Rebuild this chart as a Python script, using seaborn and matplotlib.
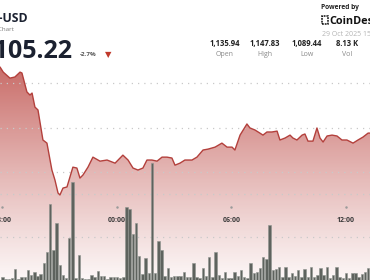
import numpy as np
import pandas as pd
import matplotlib
matplotlib.use("Agg")
import matplotlib.pyplot as plt
import matplotlib.transforms as mtransforms
from matplotlib.patches import Rectangle
import seaborn as sns

# ---------------- data (hours relative to 29 Oct 00:00) ----------------
price_hours = [-6.13, -5.96, -5.61, -5.35, -5.08, -4.98, -4.72, -4.56, -4.45, -4.30,
               -4.14, -3.88, -3.67, -3.41, -3.25, -3.09, -2.99, -2.83, -2.62, -2.31,
               -2.10, -1.94, -1.78, -1.52, -1.26, -0.89, -0.52, -0.10, 0.31, 0.58,
               0.84, 1.10, 1.36, 1.57, 1.83, 2.10, 2.36, 2.62, 2.88, 3.04,
               3.30, 3.56, 3.93, 4.19, 4.51, 4.77, 5.14, 5.50, 5.77, 6.03,
               6.18, 6.45, 6.81, 6.97, 7.23, 7.49, 7.65, 7.86, 8.12, 8.39,
               8.54, 8.81, 9.07, 9.22, 9.43, 9.70, 9.85, 10.01, 10.27, 10.48,
               10.64, 10.80, 11.01, 11.27, 11.53, 11.79, 12.05, 12.37, 12.63, 12.89,
               13.16, 13.26]
price_values = [1147.2, 1144.9, 1142.2, 1142.7, 1144.9, 1144.5, 1136.0, 1134.6, 1135.5, 1129.2,
                1127.9, 1114.4, 1113.0, 1100.9, 1096.4, 1090.6, 1089.7, 1092.8, 1093.3, 1102.2,
                1101.8, 1097.3, 1098.7, 1102.2, 1106.7, 1104.9, 1105.4, 1104.0, 1107.6, 1105.4,
                1101.8, 1100.9, 1101.8, 1105.4, 1105.4, 1104.9, 1106.7, 1106.7, 1106.3, 1103.1,
                1104.0, 1105.4, 1105.4, 1106.7, 1109.9, 1110.3, 1111.2, 1113.0, 1111.2, 1111.2,
                1109.9, 1116.6, 1121.6, 1119.8, 1118.9, 1117.5, 1116.6, 1118.0, 1118.0, 1118.4,
                1114.4, 1115.3, 1116.6, 1115.3, 1114.4, 1116.6, 1117.1, 1113.9, 1113.9, 1119.8,
                1115.3, 1113.5, 1116.2, 1116.6, 1116.2, 1114.4, 1114.4, 1113.0, 1114.4, 1115.7,
                1117.5, 1117.5]

volume_start_hour = -6.0          # 28 Oct 18:00
volume_step_minutes = 10
volume_values = [7, 2, 2, 5, 26, 2, 7, 7, 23, 12,
                 19, 9, 14, 40, 65, 177, 70, 133, 35, 12,
                 5, 98, 228, 5, 58, 5, 2, 2, 12, 7,
                 21, 9, 9, 2, 7, 7, 7, 5, 7, 170,
                 165, 107, 133, 56, 14, 51, 16, 272, 16, 91,
                 70, 9, 28, 7, 9, 9, 9, 19, 7, 7,
                 40, 7, 5, 28, 9, 53, 7, 65, 12, 5,
                 19, 5, 5, 19, 9, 23, 7, 5, 40, 16,
                 19, 28, 53, 49, 128, 23, 26, 30, 7, 30,
                 7, 16, 9, 23, 7, 26, 7, 30, 7, 12,
                 28, 12, 30, 5, 12, 30, 7, 5, 16, 5,
                 16, 16, 7, 14, 19, 28]
volume_hours = volume_start_hour + np.arange(len(volume_values)) * volume_step_minutes / 60.0

tick_hours = [-6, 0, 6, 12]
tick_labels = ["18:00", "00:00", "06:00", "12:00"]

stat_values = ["1,135.94", "1,147.83", "1,089.44", "8.13 K"]
stat_names = ["Open", "High", "Low", "Vol"]

# ---------------- styling ----------------
sns.set_theme(style="white")
plt.rcParams["font.family"] = ["Open Sans", "DejaVu Sans"]

W, H = 370, 280
fig = plt.figure(figsize=(W / 100, H / 100), dpi=100)
fig.patch.set_facecolor("white")

xlim = (-6.13, 13.26)
price_lim = (1051.5, 1177.3)
vol_lim = (0, 651)

def style_axes(ax):
    for s in ax.spines.values():
        s.set_visible(False)
    ax.tick_params(length=0, labelleft=False, labelbottom=False,
                   labelright=False, labeltop=False)
    ax.set_xlabel("")
    ax.set_ylabel("")
    ax.set_xlim(*xlim)

grid_kw = dict(color="#c9c9c9", linestyle=(0, (1, 4)), linewidth=0.9)

# base price axis: gradient fill + grid
ax_p = fig.add_axes([0, 0, 1, 1])
ax_p.set_facecolor("white")
ax_p.set_ylim(*price_lim)
style_axes(ax_p)
ax_p.set_yticks([1100, 1120, 1140])
ax_p.set_xticks([])
ax_p.yaxis.grid(True, **grid_kw)
ax_p.set_axisbelow(False)

poly = ax_p.fill_between(price_hours, price_values, price_lim[0] - 5,
                         facecolor="none", edgecolor="none")
n = 256
alpha = np.linspace(0.07, 0.85, n) ** 1.15
grad = np.zeros((n, 1, 4))
grad[..., 0] = 0.74
grad[..., 1] = 0.29
grad[..., 2] = 0.27
grad[..., 3] = alpha[:, None]
im = ax_p.imshow(grad, extent=[xlim[0], xlim[1], price_lim[0], 1150],
                 origin="lower", aspect="auto", zorder=0.5, interpolation="bilinear")
im.set_clip_path(poly.get_paths()[0], transform=ax_p.transData)
ax_p.set_xlim(*xlim)
ax_p.set_ylim(*price_lim)

# volume axis
ax_v = ax_p.twinx()
ax_v.patch.set_visible(False)
ax_v.bar(volume_hours, volume_values, width=0.128, color="#5e635e",
         edgecolor="#8f948f", linewidth=0.4, zorder=2)
style_axes(ax_v)
ax_v.set_ylim(*vol_lim)
ax_v.set_yticks([100, 200])
ax_v.set_xticks([])
ax_v.yaxis.grid(True, **grid_kw)
ax_v.set_axisbelow(True)

# line axis
ax_l = ax_p.twinx()
ax_l.patch.set_visible(False)
sns.lineplot(x=price_hours, y=price_values, ax=ax_l, color="#b3403c", linewidth=1.0)
style_axes(ax_l)
ax_l.set_ylim(*price_lim)
ax_l.set_yticks([])
ax_l.set_xticks([])
ax_l.grid(False)

# time ticks inside the plot
trans = mtransforms.blended_transform_factory(ax_l.transData, ax_l.transAxes)
ax_l.scatter(tick_hours, [1 - 207 / H] * len(tick_hours), s=0.6, color="#9a9a9a",
             transform=trans, clip_on=False, zorder=5)
for hx, lab in zip(tick_hours, tick_labels):
    ax_l.text(hx, 1 - 220 / H, lab, transform=trans, ha="center", va="center",
              fontsize=5, fontweight="bold", color="#3a3a3a")

# ---------------- header ----------------
def fx(x):
    return x / W

def fy(y):
    return 1 - y / H

dark = "#1b2130"
fig.text(fx(28.5), fy(22), "BNB-USD", ha="right", va="baseline", fontsize=8.8,
         fontweight="bold", color=dark)
fig.text(fx(14), fy(30.5), "Price Chart", ha="right", va="baseline", fontsize=4.5,
         color="#7a7a7a")
fig.text(fx(72.7), fy(58), "1,105.22", ha="right", va="baseline", fontsize=18,
         fontweight="bold", color=dark)
fig.text(fx(80), fy(56.5), "-2.7%", ha="left", va="baseline", fontsize=4.5,
         fontweight="bold", color="#555555")
fig.text(fx(104.5), fy(57.5), "\u25BC", ha="left", va="baseline", fontsize=6,
         color="#c0392b", family="DejaVu Sans")

fig.text(fx(321), fy(9), "Powered by", ha="left", va="baseline", fontsize=4.8,
         fontweight="bold", color="#222222")
fig.patches.append(Rectangle((fx(322.3), fy(24)), fx(5.5), 8 / H, transform=fig.transFigure,
                             fill=False, edgecolor="#111111", linewidth=1.1,
                             linestyle=(0, (1.2, 0.6))))
fig.text(fx(329.5), fy(24), "CoinDesk", ha="left", va="baseline", fontsize=7.8,
         fontweight="bold", color="#111111")
fig.text(fx(322), fy(36), "29 Oct 2025 15:40 UTC", ha="left", va="baseline", fontsize=5,
         color="#b5b5b5")

for cx, val, name in zip([225, 265, 307, 347], stat_values, stat_names):
    fig.text(fx(cx), fy(46), val, ha="center", va="baseline", fontsize=5.5,
             fontweight="bold", color="#222222")
    fig.text(fx(cx), fy(56), name, ha="center", va="baseline", fontsize=5,
             color="#8a8a8a")

fig.savefig("out.png", dpi=100)
